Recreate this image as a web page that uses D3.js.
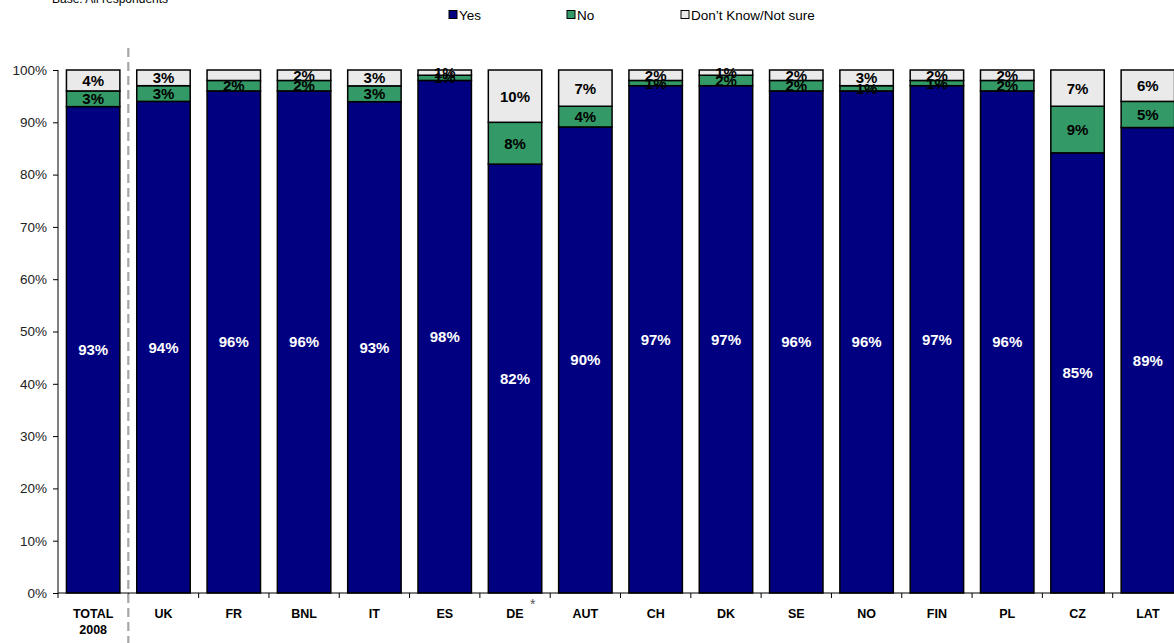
<!DOCTYPE html>
<html>
<head>
<meta charset="utf-8">
<script src="https://cdn.jsdelivr.net/npm/d3@7"></script>
<style>
  body { margin: 0; background: #fff; overflow: hidden; }
  text { font-family: Arial, "Liberation Sans", sans-serif; }
</style>
</head>
<body>
<svg id="chart" width="1174" height="643"></svg>
<script>
// categories and values
const countries = ["TOTAL 2008", "UK", "FR", "BNL", "IT", "ES", "DE", "AUT", "CH", "DK", "SE", "NO", "FIN", "PL", "CZ", "LAT"];
const yes   = [93, 94, 96, 96, 93, 98, 82, 90, 97, 97, 96, 96, 97, 96, 85, 89];
const no    = [3, 3, 2, 2, 3, 1, 8, 4, 1, 2, 2, 1, 1, 2, 9, 5];
const dk    = [4, 3, 2, 2, 3, 1, 10, 7, 2, 1, 2, 3, 2, 2, 7, 6];
const seriesNames = ["Yes", "No", "Don\u2019t Know/Not sure"];
const colors = ["#000080", "#339966", "#EAEAEA"];
const yTicks = [0, 0.1, 0.2, 0.3, 0.4, 0.5, 0.6, 0.7, 0.8, 0.9, 1];

const rows = countries.map((c, i) => ({ country: c, yes: yes[i], no: no[i], dk: dk[i] }));
const keys = ["yes", "no", "dk"];

const svg = d3.select("#chart");

const x = d3.scaleBand().domain(countries).range([58, 1183]).paddingInner(0.24).paddingOuter(0.12);
const y = d3.scaleLinear().domain([0, 1]).range([593, 70]);

const stacked = d3.stack().keys(keys).offset(d3.stackOffsetExpand)(rows);

// subtitle (cut at the top)
svg.append("text").attr("x", 52).attr("y", 3).attr("font-size", 12).attr("fill", "#000").text("Base: All respondents");

// legend
const legX = [449, 567, 681];
seriesNames.forEach((name, i) => {
  svg.append("rect").attr("x", legX[i]).attr("y", 10.5).attr("width", 8).attr("height", 8)
    .attr("fill", colors[i]).attr("stroke", "#000").attr("stroke-width", 1);
  svg.append("text").attr("x", legX[i] + 10).attr("y", 19.5).attr("font-size", 13.5).attr("fill", "#000").text(name);
});

// bars
const layers = svg.append("g").selectAll("g").data(stacked).join("g")
  .attr("fill", (d, i) => colors[i]);

layers.selectAll("rect").data(d => d).join("rect")
  .attr("x", d => x(d.data.country))
  .attr("width", x.bandwidth())
  .attr("y", d => y(d[1]))
  .attr("height", d => y(d[0]) - y(d[1]))
  .attr("stroke", "#000").attr("stroke-width", 1.5);

// value labels
stacked.forEach((layer, li) => {
  svg.append("g").selectAll("text").data(layer).join("text")
    .filter(d => !(li === 2 && d.data.country === "FR"))
    .attr("x", d => x(d.data.country) + x.bandwidth() / 2)
    .attr("y", d => (y(d[0]) + y(d[1])) / 2 + 5.5)
    .attr("text-anchor", "middle")
    .attr("font-size", 15).attr("font-weight", "bold")
    .attr("fill", li === 0 ? "#fff" : "#000")
    .text(d => d.data[keys[li]] + "%");
});

// y axis
const yAxis = svg.append("g").attr("transform", "translate(58,0)")
  .call(d3.axisLeft(y).tickValues(yTicks).tickFormat(d3.format(".0%")).tickSize(5).tickPadding(6));
yAxis.select(".domain").attr("stroke", "#000").attr("d", "M0,70V593");
yAxis.selectAll("line").attr("stroke", "#000");
yAxis.selectAll("text").attr("font-size", 13.5).attr("fill", "#222").attr("font-family", "Arial, 'Liberation Sans', sans-serif");

// x axis: ticks at band boundaries
const step = x.step();
const bounds = d3.range(countries.length + 1).map(i => 58 + i * step);
svg.append("line").attr("x1", 58).attr("x2", 1174).attr("y1", 593).attr("y2", 593).attr("stroke", "#000");
svg.append("g").selectAll("line").data(bounds).join("line")
  .attr("x1", d => d).attr("x2", d => d).attr("y1", 593).attr("y2", 598).attr("stroke", "#000");

const xl = svg.append("g").selectAll("text").data(countries).join("text")
  .attr("x", d => x(d) + x.bandwidth() / 2)
  .attr("y", 618)
  .attr("text-anchor", "middle")
  .attr("font-size", 12.5).attr("font-weight", "bold").attr("fill", "#000");
xl.each(function(d) {
  const parts = d.split(" ");
  const t = d3.select(this);
  parts.forEach((p, i) => {
    t.append("tspan").attr("x", x(d) + x.bandwidth() / 2).attr("dy", i === 0 ? 0 : 16).text(p);
  });
});

// asterisk next to DE
svg.append("text").attr("x", x("DE") + x.bandwidth() / 2 + 15).attr("y", 609)
  .attr("font-size", 14).attr("fill", "#555").text("*");

// dashed separator after TOTAL
const sepX = (x("TOTAL 2008") + x.bandwidth() + x("UK")) / 2;
svg.append("line").attr("x1", sepX).attr("x2", sepX).attr("y1", 48).attr("y2", 643)
  .attr("stroke", "#a6a6a6").attr("stroke-width", 2.2).attr("stroke-dasharray", "9,5");
</script>
</body>
</html>
